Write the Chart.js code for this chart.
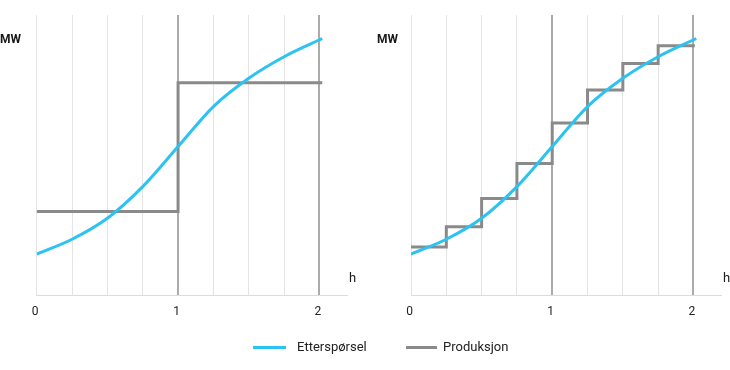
<!DOCTYPE html>
<html><head><meta charset="utf-8">
<script src="https://cdn.jsdelivr.net/npm/chart.js@4"></script>
<style>
body{margin:0;width:730px;height:370px;position:relative;background:#fff;font-family:Roboto,"Open Sans",sans-serif;overflow:hidden}
canvas{position:absolute;top:0}
.t{position:absolute;color:#1a1a1a;line-height:1;white-space:nowrap}
.mw{font-size:12px;font-weight:bold}
.h{font-size:13px}
.sw{position:absolute;height:3px}
.lg{position:absolute;font-size:13px;color:#222;line-height:1;white-space:nowrap}
</style></head>
<body>
<canvas id="c1" width="365" height="340" style="left:0"></canvas>
<canvas id="c2" width="365" height="340" style="left:365px"></canvas>
<span class="t mw" style="left:0px;top:33px">MW</span>
<span class="t mw" style="left:377px;top:33px">MW</span>
<span class="t h" style="left:349px;top:271px">h</span>
<span class="t h" style="left:723px;top:271px">h</span>
<div class="sw" style="left:253px;top:346px;width:33px;background:#2cc3f2"></div>
<span class="lg" style="left:297px;top:340px">Etterspørsel</span>
<div class="sw" style="left:406px;top:346px;width:31px;background:#8a8a8a"></div>
<span class="lg" style="left:443px;top:340px">Produksjon</span>
<script>
// Demand curve (Etterspørsel), MW index vs hours
const demandX = [0, 0.25, 0.5, 0.75, 1, 1.25, 1.5, 1.75, 2.02];
const demandY = [14.6, 19.9, 27.4, 38.7, 53, 67.3, 77.4, 85.1, 91.6];
// Production (Produksjon), hourly steps (left)
const prodHourX = [0, 1, 2.02];
const prodHourY = [29.8, 75.8, 75.8];
// Production, quarter-hour steps (right)
const prodQuarterX = [0, 0.25, 0.5, 0.75, 1, 1.25, 1.5, 1.75, 2.01];
const prodQuarterY = [17.1, 24.4, 34.5, 47.0, 61.4, 73.2, 82.7, 89.0, 89.0];
// x-axis ticks
const gridTicks = [0, 0.25, 0.5, 0.75, 1, 1.25, 1.5, 1.75, 2];
const tickLabels = ['0', '', '', '', '1', '', '', '', '2'];

const BLUE = '#2cc3f2', GREY = '#8a8a8a';
const pts = (xs, ys) => xs.map((x, i) => ({x, y: ys[i]}));

function make(id, padL, padR, px, py) {
  new Chart(document.getElementById(id), {
    type: 'line',
    data: {
      datasets: [
        {label: 'Etterspørsel', data: pts(demandX, demandY), borderColor: BLUE, borderWidth: 3,
         pointRadius: 0, cubicInterpolationMode: 'monotone', fill: false},
        {label: 'Produksjon', data: pts(px, py), borderColor: GREY, borderWidth: 3,
         pointRadius: 0, stepped: 'before', fill: false}
      ]
    },
    options: {
      responsive: false, animation: false,
      layout: {padding: {left: padL, right: padR, top: 15, bottom: 10.6}},
      plugins: {legend: {display: false}, tooltip: {enabled: false}},
      scales: {
        x: {
          type: 'linear', min: 0, max: 2.2,
          afterBuildTicks: s => { s.ticks = gridTicks.map(v => ({value: v})); },
          ticks: {autoSkip: false, maxRotation: 0, padding: 10, color: '#222', labelOffset: -1.5,
                  font: {family: 'Roboto', size: 12},
                  callback: (v, i) => tickLabels[i]},
          grid: {drawTicks: false,
                 color: c => (c.tick && (c.tick.value === 1 || c.tick.value === 2)) ? '#ababab' : '#e4e4e4',
                 lineWidth: c => (c.tick && (c.tick.value === 1 || c.tick.value === 2)) ? 2 : 1},
          border: {color: '#dcdcdc', width: 1}
        },
        y: {display: false, min: 0, max: 100}
      }
    }
  });
}
make('c1', 36.7, 17.3, prodHourX, prodHourY);
make('c2', 46, 8.3, prodQuarterX, prodQuarterY);
</script>
</body></html>
